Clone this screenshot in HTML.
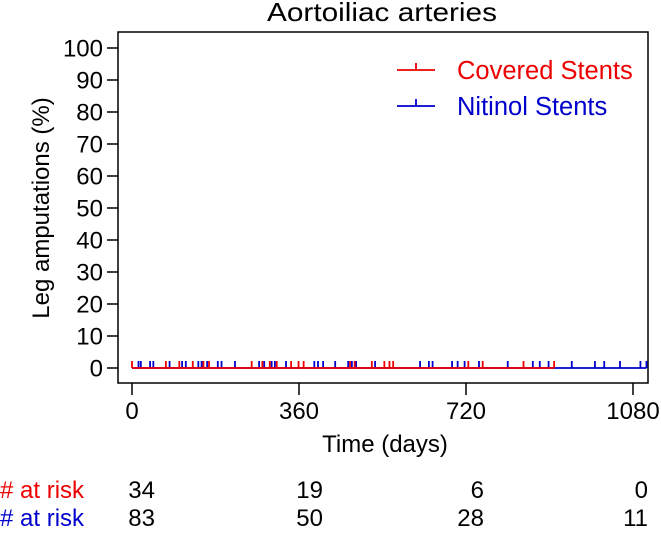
<!DOCTYPE html>
<html><head><meta charset="utf-8"><style>
body{margin:0;background:#fff}
svg text{font-family:"Liberation Sans",Arial,sans-serif}
</style></head><body>
<svg id="chart" width="661" height="530" viewBox="0 0 661 530" xmlns="http://www.w3.org/2000/svg">
<rect width="661" height="530" fill="#fff"/>
<text x="382" y="21" font-size="26" text-anchor="middle" textLength="230" lengthAdjust="spacingAndGlyphs">Aortoiliac arteries</text>
<rect x="118" y="32" width="530" height="351" fill="none" stroke="#000" stroke-width="1.5"/>
<text transform="translate(49,208) rotate(-90)" font-size="24" text-anchor="middle">Leg amputations (%)</text>
<text x="385" y="452" font-size="24" text-anchor="middle">Time (days)</text>
<g id="yaxis"></g>
<g id="xaxis"></g>
<g id="series"></g>
<g>
<g><line x1="397" y1="70" x2="435" y2="70" stroke="#e00" stroke-width="1.8"/><line x1="416" y1="70" x2="416" y2="63" stroke="#e00" stroke-width="1.8"/><text x="457" y="79" font-size="25.5" fill="#e00">Covered Stents</text></g>
<g><line x1="397" y1="106" x2="435" y2="106" stroke="#00c" stroke-width="1.8"/><line x1="416" y1="106" x2="416" y2="99" stroke="#00c" stroke-width="1.8"/><text x="457" y="115" font-size="25.5" fill="#00c">Nitinol Stents</text></g>
</g>
<g id="risk"></g>
</svg>
<script>
const yTicks=[0,10,20,30,40,50,60,70,80,90,100];
const xTicks=[0,360,720,1080];
const redCensor=[0,73,102,131,154,166,258,281,297,312,343,359,370,470,480,517,544,555,563,725,756,844,910];
const blueCensor=[14,19,39,46,81,108,116,143,150,162,185,193,222,274,285,301,308,332,393,401,412,438,466,474,483,524,621,640,648,690,702,717,748,810,864,879,898,948,998,1018,1052,1096,1109];
const redRisk=[34,19,6,0];
const blueRisk=[83,50,28,11];
const redEnd=910, blueEnd=1109;
const redLevel=0, blueLevel=0;
const NS="http://www.w3.org/2000/svg";
const X=d=>132+d*(633-132)/1080;
const Y=v=>368-v*(368-48)/100;
function mk(p,tag,a){const e=document.createElementNS(NS,tag);for(const k in a)e.setAttribute(k,a[k]);p.appendChild(e);return e;}
const ya=document.getElementById('yaxis');
yTicks.forEach(v=>{
  const l=mk(ya,'line',{x1:107,x2:118,y1:Y(v),y2:Y(v),stroke:'#000','stroke-width':1.5});
  
  
  const t=mk(ya,'text',{x:103,y:Y(v)+8.5,'font-size':24,'text-anchor':'end'});t.textContent=v;
  
  
});
const xa=document.getElementById('xaxis');
xTicks.forEach(v=>{
  const l=mk(xa,'line',{x1:X(v),x2:X(v),y1:383,y2:395,stroke:'#000','stroke-width':1.5});
  
  
  const t=mk(xa,'text',{x:X(v),y:419,'font-size':24,'text-anchor':'middle'});t.textContent=v;
  
  
});
const s=document.getElementById('series');
function drawSeries(cens,end,lvl,col,name){
  const g=mk(s,'g',{});
  
  
  mk(g,'line',{x1:X(0),x2:X(end),y1:Y(lvl),y2:Y(lvl),stroke:col,'stroke-width':1.8});
  cens.forEach(d=>{
    const c=mk(g,'line',{x1:X(d),x2:X(d),y1:Y(lvl),y2:Y(lvl)-7,stroke:col,'stroke-width':1.8});
    
    
  });
}
drawSeries(blueCensor,blueEnd,blueLevel,'#00c','nitinol-series');
drawSeries(redCensor,redEnd,redLevel,'#e00','covered-series');
const r=document.getElementById('risk');
const riskX=[155,323,484,648];
[[redRisk,'#e00',498],[blueRisk,'#00c',526]].forEach(([arr,col,y])=>{
  const lab=mk(r,'text',{x:0,y:y,'font-size':24,fill:col});lab.textContent='# at risk';
  
  
  arr.forEach((v,i)=>{
    const t=mk(r,'text',{x:riskX[i],y:y,'font-size':24,'text-anchor':'end'});t.textContent=v;
    
    
  });
});
</script>
</body></html>
